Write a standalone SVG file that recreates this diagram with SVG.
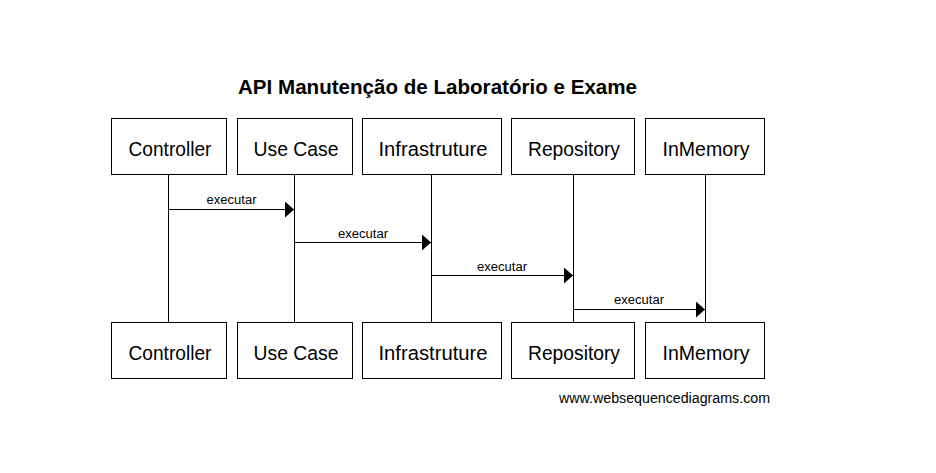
<svg xmlns="http://www.w3.org/2000/svg" width="936" height="473" viewBox="0 0 936 473">
<style>
.box{fill:#fff;stroke:#000;stroke-width:1}
.life{stroke:#000;stroke-width:1}
.msg{stroke:#000;stroke-width:1;fill:none}
.lbl{font-family:"Liberation Sans",Arial,sans-serif;font-size:20.5px;text-anchor:middle;fill:#000}
.ml{font-family:"Liberation Sans",Arial,sans-serif;font-size:12.5px;text-anchor:middle;fill:#000}
.title{font-family:"Liberation Sans",Arial,sans-serif;font-size:20px;font-weight:bold;text-anchor:middle;fill:#000}
.wm{font-family:"Liberation Sans",Arial,sans-serif;font-size:14px;text-anchor:end;fill:#000}
</style>
<defs>
<marker id="ah" markerWidth="10" markerHeight="16" refX="9" refY="8" orient="auto" markerUnits="userSpaceOnUse">
<path d="M0,0 L9,8 L0,16 Z" fill="#000"/>
</marker>
</defs>
<rect width="936" height="473" fill="#fff"/>
<text class="title" x="437.5" y="94" textLength="399" lengthAdjust="spacingAndGlyphs">API Manutenção de Laboratório e Exame</text>
<g id="lifelines">
<line class="life" x1="168.5" y1="175" x2="168.5" y2="322"/>
<line class="life" x1="294.5" y1="175" x2="294.5" y2="322"/>
<line class="life" x1="431.5" y1="175" x2="431.5" y2="322"/>
<line class="life" x1="573.5" y1="175" x2="573.5" y2="322"/>
<line class="life" x1="705.5" y1="175" x2="705.5" y2="322"/>
</g>
<g id="controller">
<rect class="box" x="111.5" y="118.5" width="115" height="56"/>
<text class="lbl" x="170" y="156" textLength="83" lengthAdjust="spacingAndGlyphs">Controller</text>
<rect class="box" x="111.5" y="322.5" width="115" height="56"/>
<text class="lbl" x="170" y="360" textLength="83" lengthAdjust="spacingAndGlyphs">Controller</text>
</g>
<g id="usecase">
<rect class="box" x="237.5" y="118.5" width="115" height="56"/>
<text class="lbl" x="296" y="156" textLength="85" lengthAdjust="spacingAndGlyphs">Use Case</text>
<rect class="box" x="237.5" y="322.5" width="115" height="56"/>
<text class="lbl" x="296" y="360" textLength="85" lengthAdjust="spacingAndGlyphs">Use Case</text>
</g>
<g id="infrastruture">
<rect class="box" x="362.5" y="118.5" width="139" height="56"/>
<text class="lbl" x="433" y="156" textLength="109" lengthAdjust="spacingAndGlyphs">Infrastruture</text>
<rect class="box" x="362.5" y="322.5" width="139" height="56"/>
<text class="lbl" x="433" y="360" textLength="109" lengthAdjust="spacingAndGlyphs">Infrastruture</text>
</g>
<g id="repository">
<rect class="box" x="511.5" y="118.5" width="123" height="56"/>
<text class="lbl" x="574" y="156" textLength="92" lengthAdjust="spacingAndGlyphs">Repository</text>
<rect class="box" x="511.5" y="322.5" width="123" height="56"/>
<text class="lbl" x="574" y="360" textLength="92" lengthAdjust="spacingAndGlyphs">Repository</text>
</g>
<g id="inmemory">
<rect class="box" x="645.5" y="118.5" width="119" height="56"/>
<text class="lbl" x="706" y="156" textLength="87" lengthAdjust="spacingAndGlyphs">InMemory</text>
<rect class="box" x="645.5" y="322.5" width="119" height="56"/>
<text class="lbl" x="706" y="360" textLength="87" lengthAdjust="spacingAndGlyphs">InMemory</text>
</g>
<g id="connectors">
<line class="msg" x1="168.5" y1="209.5" x2="294" y2="209.5" marker-end="url(#ah)"/>
<text class="ml" x="231.5" y="204" textLength="50" lengthAdjust="spacingAndGlyphs">executar</text>
<line class="msg" x1="294.5" y1="242.5" x2="431" y2="242.5" marker-end="url(#ah)"/>
<text class="ml" x="363" y="238" textLength="50" lengthAdjust="spacingAndGlyphs">executar</text>
<line class="msg" x1="431.5" y1="275.5" x2="573" y2="275.5" marker-end="url(#ah)"/>
<text class="ml" x="502" y="271" textLength="50" lengthAdjust="spacingAndGlyphs">executar</text>
<line class="msg" x1="573.5" y1="309.5" x2="705" y2="309.5" marker-end="url(#ah)"/>
<text class="ml" x="639" y="304" textLength="50" lengthAdjust="spacingAndGlyphs">executar</text>
</g>
<text class="wm" x="770" y="403" textLength="211" lengthAdjust="spacingAndGlyphs">www.websequencediagrams.com</text>
</svg>
